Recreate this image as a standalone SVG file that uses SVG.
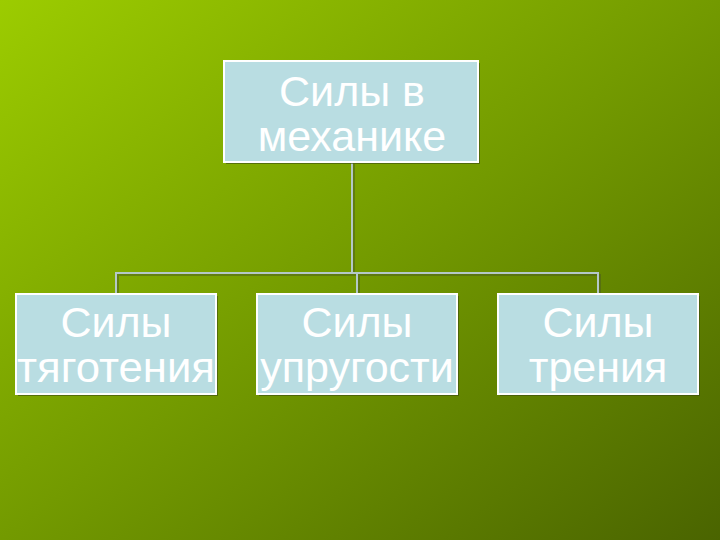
<svg xmlns="http://www.w3.org/2000/svg" width="720" height="540" viewBox="0 0 720 540">
<defs>
<linearGradient id="bg" x1="0" y1="0" x2="1" y2="1">
<stop offset="0" stop-color="#9ccc00"/>
<stop offset="0.5" stop-color="#739a00"/>
<stop offset="1" stop-color="#4a6400"/>
</linearGradient>
<style>
.box{fill:#b9dde2;stroke:#ffffff;stroke-width:2}
.sh{fill:#3a4a10;opacity:0.6}
.t{font-family:"Liberation Sans",Arial,sans-serif;font-size:43px;fill:#ffffff;text-anchor:middle}
.ln{fill:none;stroke:#b4c8c8;stroke-width:2}
.lsh{fill:none;stroke:#4a5a20;stroke-width:2;opacity:0.5}
</style>
</defs>
<rect width="720" height="540" fill="url(#bg)"/>
<g id="connectors">
<path class="lsh" d="M354 164V275M118 296V275H600V296M359 275V296"/>
<path class="ln" d="M352 162V273M116 294V273H598V294M357 273V294"/>
</g>
<g id="top">
<rect class="sh" x="226" y="63" width="254" height="101"/>
<rect class="box" x="224" y="61" width="254" height="101"/>
<text class="t" x="352" y="106">Силы в</text>
<text class="t" x="352" y="151">механике</text>
</g>
<g id="n1">
<rect class="sh" x="18" y="296" width="200" height="100"/>
<rect class="box" x="16" y="294" width="200" height="100"/>
<text class="t" x="116" y="337">Силы</text>
<text class="t" x="116" y="382" textLength="198" lengthAdjust="spacingAndGlyphs">тяготения</text>
</g>
<g id="n2">
<rect class="sh" x="259" y="296" width="200" height="100"/>
<rect class="box" x="257" y="294" width="200" height="100"/>
<text class="t" x="357" y="337">Силы</text>
<text class="t" x="357" y="382">упругости</text>
</g>
<g id="n3">
<rect class="sh" x="500" y="296" width="200" height="100"/>
<rect class="box" x="498" y="294" width="200" height="100"/>
<text class="t" x="598" y="337">Силы</text>
<text class="t" x="598" y="382">трения</text>
</g>
</svg>
